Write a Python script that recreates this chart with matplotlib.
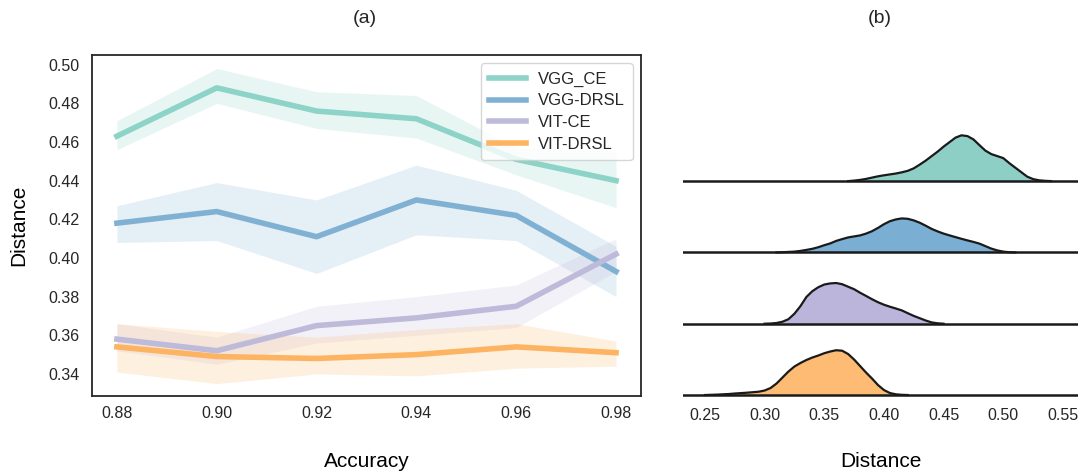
import matplotlib.pyplot as plt

plt.rcParams['font.family'] = ['Liberation Sans', 'DejaVu Sans']

# (a) accuracy vs distance, mean with band
accuracy = [0.88, 0.90, 0.92, 0.94, 0.96, 0.98]

vgg_ce = [0.463, 0.488, 0.476, 0.472, 0.451, 0.440]
vgg_ce_lo = [0.456, 0.480, 0.467, 0.462, 0.443, 0.426]
vgg_ce_hi = [0.471, 0.498, 0.486, 0.484, 0.457, 0.455]

vgg_drsl = [0.418, 0.424, 0.411, 0.430, 0.422, 0.393]
vgg_drsl_lo = [0.408, 0.409, 0.392, 0.412, 0.409, 0.380]
vgg_drsl_hi = [0.427, 0.439, 0.430, 0.448, 0.435, 0.406]

vit_ce = [0.358, 0.352, 0.365, 0.369, 0.375, 0.402]
vit_ce_lo = [0.352, 0.345, 0.356, 0.360, 0.364, 0.393]
vit_ce_hi = [0.366, 0.359, 0.375, 0.380, 0.386, 0.410]

vit_drsl = [0.354, 0.349, 0.348, 0.350, 0.354, 0.351]
vit_drsl_lo = [0.341, 0.335, 0.340, 0.339, 0.343, 0.344]
vit_drsl_hi = [0.366, 0.362, 0.359, 0.363, 0.366, 0.357]

names = ['VGG_CE', 'VGG-DRSL', 'VIT-CE', 'VIT-DRSL']
colors = ['#8dd3c7', '#80b1d3', '#bebada', '#fdb462']

# (b) density curves (height in pixels of each row)
teal_x = [0.370, 0.375, 0.380, 0.385, 0.390, 0.395, 0.400, 0.405, 0.410, 0.415,
          0.420, 0.425, 0.430, 0.435, 0.440, 0.445, 0.450, 0.455, 0.460, 0.465,
          0.470, 0.475, 0.480, 0.485, 0.490, 0.495, 0.500, 0.505, 0.510, 0.515,
          0.520, 0.525, 0.530, 0.535, 0.540]
teal_d = [0, 0.5, 1.2, 2.2, 3.5, 4.8, 5.8, 6.7, 7.6, 8.8,
          10.3, 12.8, 16.5, 20.5, 25, 29.5, 34.5, 39, 43.5, 45.8,
          45, 41.7, 36, 30.5, 27, 25, 23, 18, 13.5, 9,
          4.5, 2, 0.8, 0.3, 0]

blue_x = [0.310, 0.315, 0.320, 0.325, 0.330, 0.335, 0.340, 0.345, 0.350, 0.355,
          0.360, 0.365, 0.370, 0.375, 0.380, 0.385, 0.390, 0.395, 0.400, 0.405,
          0.410, 0.415, 0.420, 0.425, 0.430, 0.435, 0.440, 0.445, 0.450, 0.455,
          0.460, 0.465, 0.470, 0.475, 0.480, 0.485, 0.490, 0.495, 0.500, 0.505,
          0.510]
blue_d = [0, 0.2, 0.5, 0.8, 1.5, 2.5, 3.6, 5.2, 7.2, 9,
          11.5, 13.3, 15, 16, 17, 18.8, 21.2, 24.5, 28.2, 31.2,
          33, 34, 33.6, 32, 29.7, 26.7, 23.5, 21, 18.8, 17,
          15.3, 13.6, 12, 10.5, 8.8, 6.3, 3.8, 2, 0.8, 0.2,
          0]

purple_x = [0.300, 0.305, 0.310, 0.315, 0.320, 0.325, 0.330, 0.335, 0.340, 0.345,
            0.350, 0.355, 0.360, 0.365, 0.370, 0.375, 0.380, 0.385, 0.390, 0.395,
            0.400, 0.405, 0.410, 0.415, 0.420, 0.425, 0.430, 0.435, 0.440, 0.445,
            0.450]
purple_d = [0, 0.2, 0.7, 2, 4.5, 10, 17.5, 26.7, 32.5, 36.5,
            39.2, 40.3, 40.7, 39.5, 37, 34.5, 31, 27.8, 24.5, 21.5,
            19, 17, 15.2, 13.3, 10.5, 7.8, 5.5, 3.2, 1.3, 0.4,
            0]

orange_x = [0.250, 0.255, 0.260, 0.265, 0.270, 0.275, 0.280, 0.285, 0.290, 0.295,
            0.300, 0.305, 0.310, 0.315, 0.320, 0.325, 0.330, 0.335, 0.340, 0.345,
            0.350, 0.355, 0.360, 0.365, 0.370, 0.375, 0.380, 0.385, 0.390, 0.395,
            0.400, 0.405, 0.410, 0.415, 0.420]
orange_d = [0, 0.2, 0.4, 0.7, 1, 1.5, 1.9, 2.3, 2.8, 3.3,
            4.5, 7, 11.5, 17.5, 23.5, 28.5, 32, 35, 37.5, 39.5,
            41.8, 43.5, 44.8, 44.3, 41, 35.5, 29, 22.5, 16.5, 10,
            5, 2, 0.7, 0.2, 0]

ridges = [(teal_x, teal_d), (blue_x, blue_d), (purple_x, purple_d), (orange_x, orange_d)]
ridge_colors = ['#8ecfc5', '#7aaed3', '#bbb5dc', '#fdbb73']
dist_ticks = [0.25, 0.30, 0.35, 0.40, 0.45, 0.50, 0.55]

text_c = '#262626'

fig = plt.figure(figsize=(10.82, 4.74), dpi=100)

ax = fig.add_axes([0.085, 0.1646, 0.5074, 0.7194])
series = [(vgg_ce, vgg_ce_lo, vgg_ce_hi), (vgg_drsl, vgg_drsl_lo, vgg_drsl_hi),
          (vit_ce, vit_ce_lo, vit_ce_hi), (vit_drsl, vit_drsl_lo, vit_drsl_hi)]
for (m, lo, hi), name, c in zip(series, names, colors):
    ax.fill_between(accuracy, lo, hi, color=c, alpha=0.2, lw=0)
    ax.plot(accuracy, m, color=c, lw=4, label=name)
ax.set_xlim(0.875, 0.985)
ax.set_ylim(0.3286, 0.505)
ax.set_xticks(accuracy)
ax.set_xticklabels([f'{v:.2f}' for v in accuracy])
ax.set_yticks([0.34, 0.36, 0.38, 0.40, 0.42, 0.44, 0.46, 0.48, 0.50])
ax.tick_params(length=0, labelsize=11.5, colors=text_c)
ax.tick_params(axis='x', pad=7.5)
ax.tick_params(axis='y', pad=9)
for s in ax.spines.values():
    s.set_color('#262626')
    s.set_linewidth(1.3)
ax.set_xlabel('Accuracy', fontsize=15, color='black', labelpad=22)
ax.set_ylabel('Distance', fontsize=15, color='black', labelpad=14)
leg = ax.legend(loc='upper right', fontsize=12, handlelength=2.2, labelspacing=0.4,
                borderpad=0.5, handletextpad=0.7, frameon=True)
leg.get_frame().set_edgecolor('#cccccc')
for t in leg.get_texts():
    t.set_color(text_c)

# ridge plot
ax2 = fig.add_axes([0.6312, 0.1624, 0.3651, 0.5844])
row_gap = 71.3
n = len(ridges)
for i, ((xs, ds), c) in enumerate(zip(ridges, ridge_colors)):
    base = (n - 1 - i) * row_gap
    top = [base + d for d in ds]
    ax2.fill_between(xs, base, top, color=c, lw=0, zorder=2 * i)
    ax2.plot(xs, top, color='#1a1a1a', lw=1.6, zorder=2 * i + 1)
    ax2.axhline(base, color='#1a1a1a', lw=1.8, zorder=2 * i + 1)
ax2.set_xlim(0.2316, 0.5626)
ax2.set_ylim(-2, 275)
ax2.set_yticks([])
ax2.set_xticks(dist_ticks)
ax2.set_xticklabels([f'{v:.2f}' for v in dist_ticks])
ax2.tick_params(length=0, labelsize=11.5, colors=text_c, pad=8)
for s in ax2.spines.values():
    s.set_visible(False)
ax2.set_xlabel('Distance', fontsize=15, color='black', labelpad=21)

fig.text(0.337, 0.962, '(a)', fontsize=14, ha='center', va='center', color=text_c)
fig.text(0.813, 0.962, '(b)', fontsize=14, ha='center', va='center', color=text_c)

fig.savefig('out.png', dpi=100)
